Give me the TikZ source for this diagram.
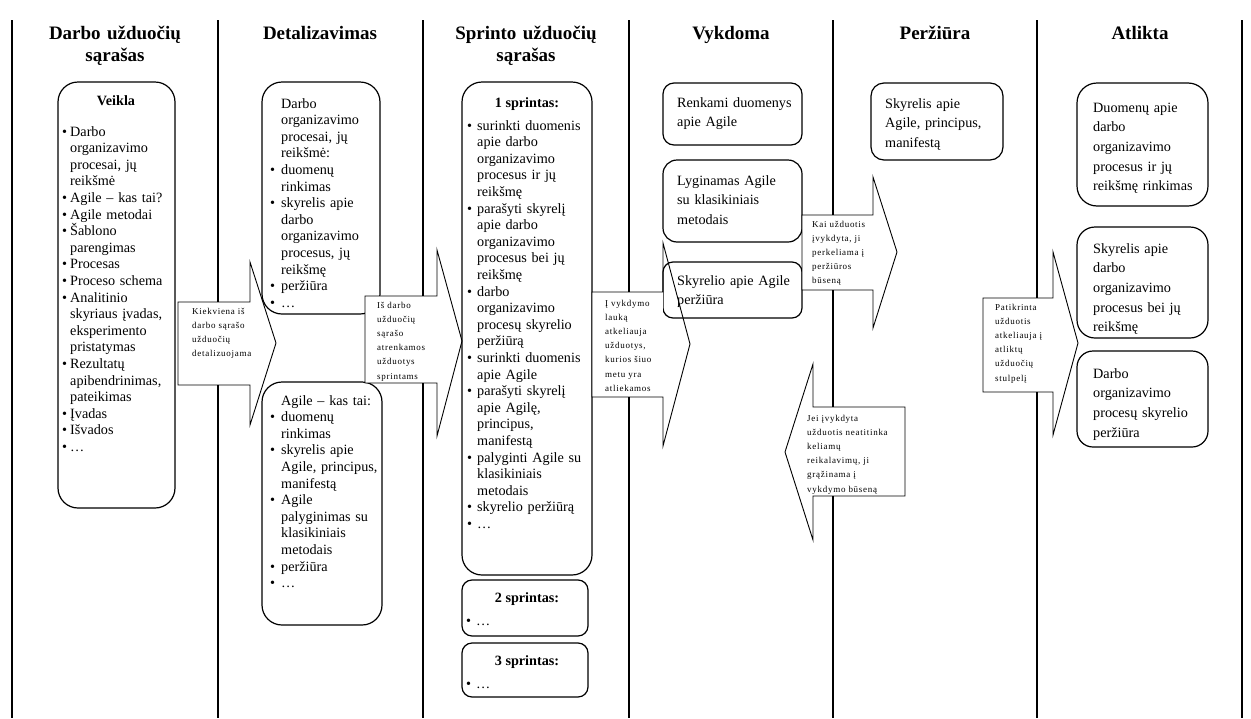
\documentclass[tikz,border=0pt]{standalone}
\usepackage{fontspec}
\setmainfont{Liberation Serif}
\newfontfamily\notefont[LetterSpace=8]{Liberation Serif}
% bullet item and continuation line inside the lists
\newcommand\bitem[1][8pt]{\makebox[#1][l]{\textbullet}}
\newcommand\bcont[1][8pt]{\hspace*{#1}}
% right-pointing callout: box (x1,y1)-(x2,y2), head from y=ht to y=hb, tip (tx,ty)
\newcommand\rcallout[8]{%
  \fill[white] (#1,#2) rectangle (#3,#4);
  \draw[callout] (#1,#2) -- (#3,#2) -- (#3,#5) -- (#7,#8) -- (#3,#6) -- (#3,#4) -- (#1,#4) -- cycle;}
% left-pointing callout: head base at x1
\newcommand\lcallout[8]{%
  \fill[white] (#1,#2) rectangle (#3,#4);
  \draw[callout] (#3,#2) -- (#1,#2) -- (#1,#5) -- (#7,#8) -- (#1,#6) -- (#1,#4) -- (#3,#4) -- cycle;}
\begin{document}
\begin{tikzpicture}[x=1pt,y=-1pt,
  sep/.style={line width=1.2pt},
  card/.style={draw, line width=1.2pt, fill=white},
  callout/.style={line width=0.9pt, line join=miter},
  head/.style={font=\bfseries\fontsize{19}{22}\selectfont, align=center, anchor=base,
    inner sep=0pt, text width=200pt},
  title/.style={font=\bfseries\fontsize{14.2}{16.6}\selectfont, anchor=base, inner sep=0pt},
  list/.style={font=\fontsize{14.2}{16.6}\selectfont, align=left, anchor=base west,
    inner sep=0pt, text width=180pt},
  loose/.style={font=\fontsize{14.2}{19.7}\selectfont, align=left, anchor=base west,
    inner sep=0pt, text width=180pt},
  note/.style={font=\notefont\fontsize{9}{14.2}\selectfont, align=left, anchor=base west,
    inner sep=0pt, text width=150pt},
]
\useasboundingbox (0,0) rectangle (1251,718);

% column separators
\foreach \x in {12,218,423,629,833,1037,1242}
  \draw[sep] (\x,20) -- (\x,718);

% column headings
\node[head] (h1) at (115,39) {Darbo užduočių\\sąrašas};
\node[head] (h2) at (320,39) {Detalizavimas};
\node[head] (h3) at (526,39) {Sprinto užduočių\\sąrašas};
\node[head] (h4) at (731,39) {Vykdoma};
\node[head] (h5) at (935,39) {Peržiūra};
\node[head] (h6) at (1140,39) {Atlikta};

% cards
\draw[card, rounded corners=20pt] (58,82) rectangle (175,508);
\draw[card, rounded corners=20pt] (262,82) rectangle (380,314);
\draw[card, rounded corners=20pt] (262,382) rectangle (382,625);
\draw[card, rounded corners=20pt] (462,82) rectangle (592,575);
\draw[card, rounded corners=10pt] (462,580) rectangle (588,636);
\draw[card, rounded corners=10pt] (462,643) rectangle (588,697);
\draw[card, rounded corners=11pt] (663,83) rectangle (802,145);
\draw[card, rounded corners=14pt] (663,160) rectangle (802,242);
\draw[card, rounded corners=10pt] (663,262) rectangle (802,318);
\draw[card, rounded corners=13pt] (871,83) rectangle (1003,160);
\draw[card, rounded corners=20pt] (1077,83) rectangle (1208,206);
\draw[card, rounded corners=18pt] (1077,227) rectangle (1208,338);
\draw[card, rounded corners=16pt] (1077,351) rectangle (1208,447);

% backlog
\node[title] (veikla) at (116,105) {Veikla};
\node[list] (backlog) at (62,136) {%
\bitem Darbo\\ \bcont organizavimo\\ \bcont procesai, jų\\ \bcont reikšmė\\
\bitem Agile – kas tai?\\ \bitem Agile metodai\\ \bitem Šablono\\ \bcont parengimas\\
\bitem Procesas\\ \bitem Proceso schema\\ \bitem Analitinio\\ \bcont skyriaus įvadas,\\
\bcont eksperimento\\ \bcont pristatymas\\ \bitem Rezultatų\\ \bcont apibendrinimas,\\
\bcont pateikimas\\ \bitem Įvadas\\ \bitem Išvados\\ \bitem …};

% detailing
\node[list] (detA) at (270,108) {%
\bcont[11pt]Darbo\\ \bcont[11pt]organizavimo\\ \bcont[11pt]procesai, jų\\ \bcont[11pt]reikšmė:\\
\bitem[11pt]duomenų\\ \bcont[11pt]rinkimas\\ \bitem[11pt]skyrelis apie\\ \bcont[11pt]darbo\\
\bcont[11pt]organizavimo\\ \bcont[11pt]procesus, jų\\ \bcont[11pt]reikšmę\\
\bitem[11pt]peržiūra\\ \bitem[11pt]…};
\node[list] (detB) at (270,405) {%
\bcont[11pt]Agile – kas tai:\\
\bitem[11pt]duomenų\\ \bcont[11pt]rinkimas\\ \bitem[11pt]skyrelis apie\\
\bcont[11pt]Agile, principus,\\ \bcont[11pt]manifestą\\ \bitem[11pt]Agile\\
\bcont[11pt]palyginimas su\\ \bcont[11pt]klasikiniais\\ \bcont[11pt]metodais\\
\bitem[11pt]peržiūra\\ \bitem[11pt]…};

% sprint backlog
\node[title] (s1) at (527,107) {1 sprintas:};
\node[list] (s1list) at (467,130) {%
\bitem[10pt]surinkti duomenis\\ \bcont[10pt]apie darbo\\ \bcont[10pt]organizavimo\\
\bcont[10pt]procesus ir jų\\ \bcont[10pt]reikšmę\\
\bitem[10pt]parašyti skyrelį\\ \bcont[10pt]apie darbo\\ \bcont[10pt]organizavimo\\
\bcont[10pt]procesus bei jų\\ \bcont[10pt]reikšmę\\
\bitem[10pt]darbo\\ \bcont[10pt]organizavimo\\ \bcont[10pt]procesų skyrelio\\
\bcont[10pt]peržiūrą\\
\bitem[10pt]surinkti duomenis\\ \bcont[10pt]apie Agile\\
\bitem[10pt]parašyti skyrelį\\ \bcont[10pt]apie Agilę,\\ \bcont[10pt]principus,\\
\bcont[10pt]manifestą\\
\bitem[10pt]palyginti Agile su\\ \bcont[10pt]klasikiniais\\ \bcont[10pt]metodais\\
\bitem[10pt]skyrelio peržiūrą\\ \bitem[10pt]…};
\node[title] (s2) at (527,602) {2 sprintas:};
\node[list] (s2list) at (466,625) {\bitem[10pt]…};
\node[title] (s3) at (527,665) {3 sprintas:};
\node[list] (s3list) at (466,688) {\bitem[10pt]…};

% in progress
\node[loose] (v1) at (677,107) {Renkami duomenys\\apie Agile};
\node[loose] (v2) at (677,185) {Lyginamas Agile\\su klasikiniais\\metodais};
\node[loose] (v3) at (677,285) {Skyrelio apie Agile\\peržiūra};

% review
\node[loose] (p1) at (885,108) {Skyrelis apie\\Agile, principus,\\manifestą};

% done
\node[loose] (d1) at (1093,112) {Duomenų apie\\darbo\\organizavimo\\procesus ir jų\\reikšmę rinkimas};
\node[loose] (d2) at (1093,253) {Skyrelis apie\\darbo\\organizavimo\\procesus bei jų\\reikšmę};
\node[loose] (d3) at (1093,378) {Darbo\\organizavimo\\procesų skyrelio\\peržiūra};

% flow callouts
\rcallout{178}{302}{250}{385}{262}{425}{276}{343}
\rcallout{365}{296}{437}{383}{250}{436}{462}{341}
\rcallout{592}{292}{663}{397}{243}{446}{690}{344}
\rcallout{802}{215}{873}{290}{177}{328}{897}{252}
\lcallout{813}{407}{905}{496}{364}{540}{785}{452}
\rcallout{983}{298}{1053}{392}{252}{435}{1078}{343}

\node[note] (n1) at (192,314) {Kiekviena iš\\darbo sąrašo\\užduočių\\detalizuojama};
\node[note] (n2) at (377,308) {Iš darbo\\užduočių\\sąrašo\\atrenkamos\\užduotys\\sprintams};
\node[note] (n3) at (605,306) {Į vykdymo\\lauką\\atkeliauja\\užduotys,\\kurios šiuo\\metu yra\\atliekamos};
\node[note] (n4) at (812,227) {Kai užduotis\\įvykdyta, ji\\perkeliama į\\peržiūros\\būseną};
\node[note] (n5) at (807,421) {Jei įvykdyta\\užduotis neatitinka\\keliamų\\reikalavimų, ji\\grąžinama į\\vykdymo būseną};
\node[note] (n6) at (995,310) {Patikrinta\\užduotis\\atkeliauja į\\atliktų\\užduočių\\stulpelį};
\end{tikzpicture}
\end{document}
